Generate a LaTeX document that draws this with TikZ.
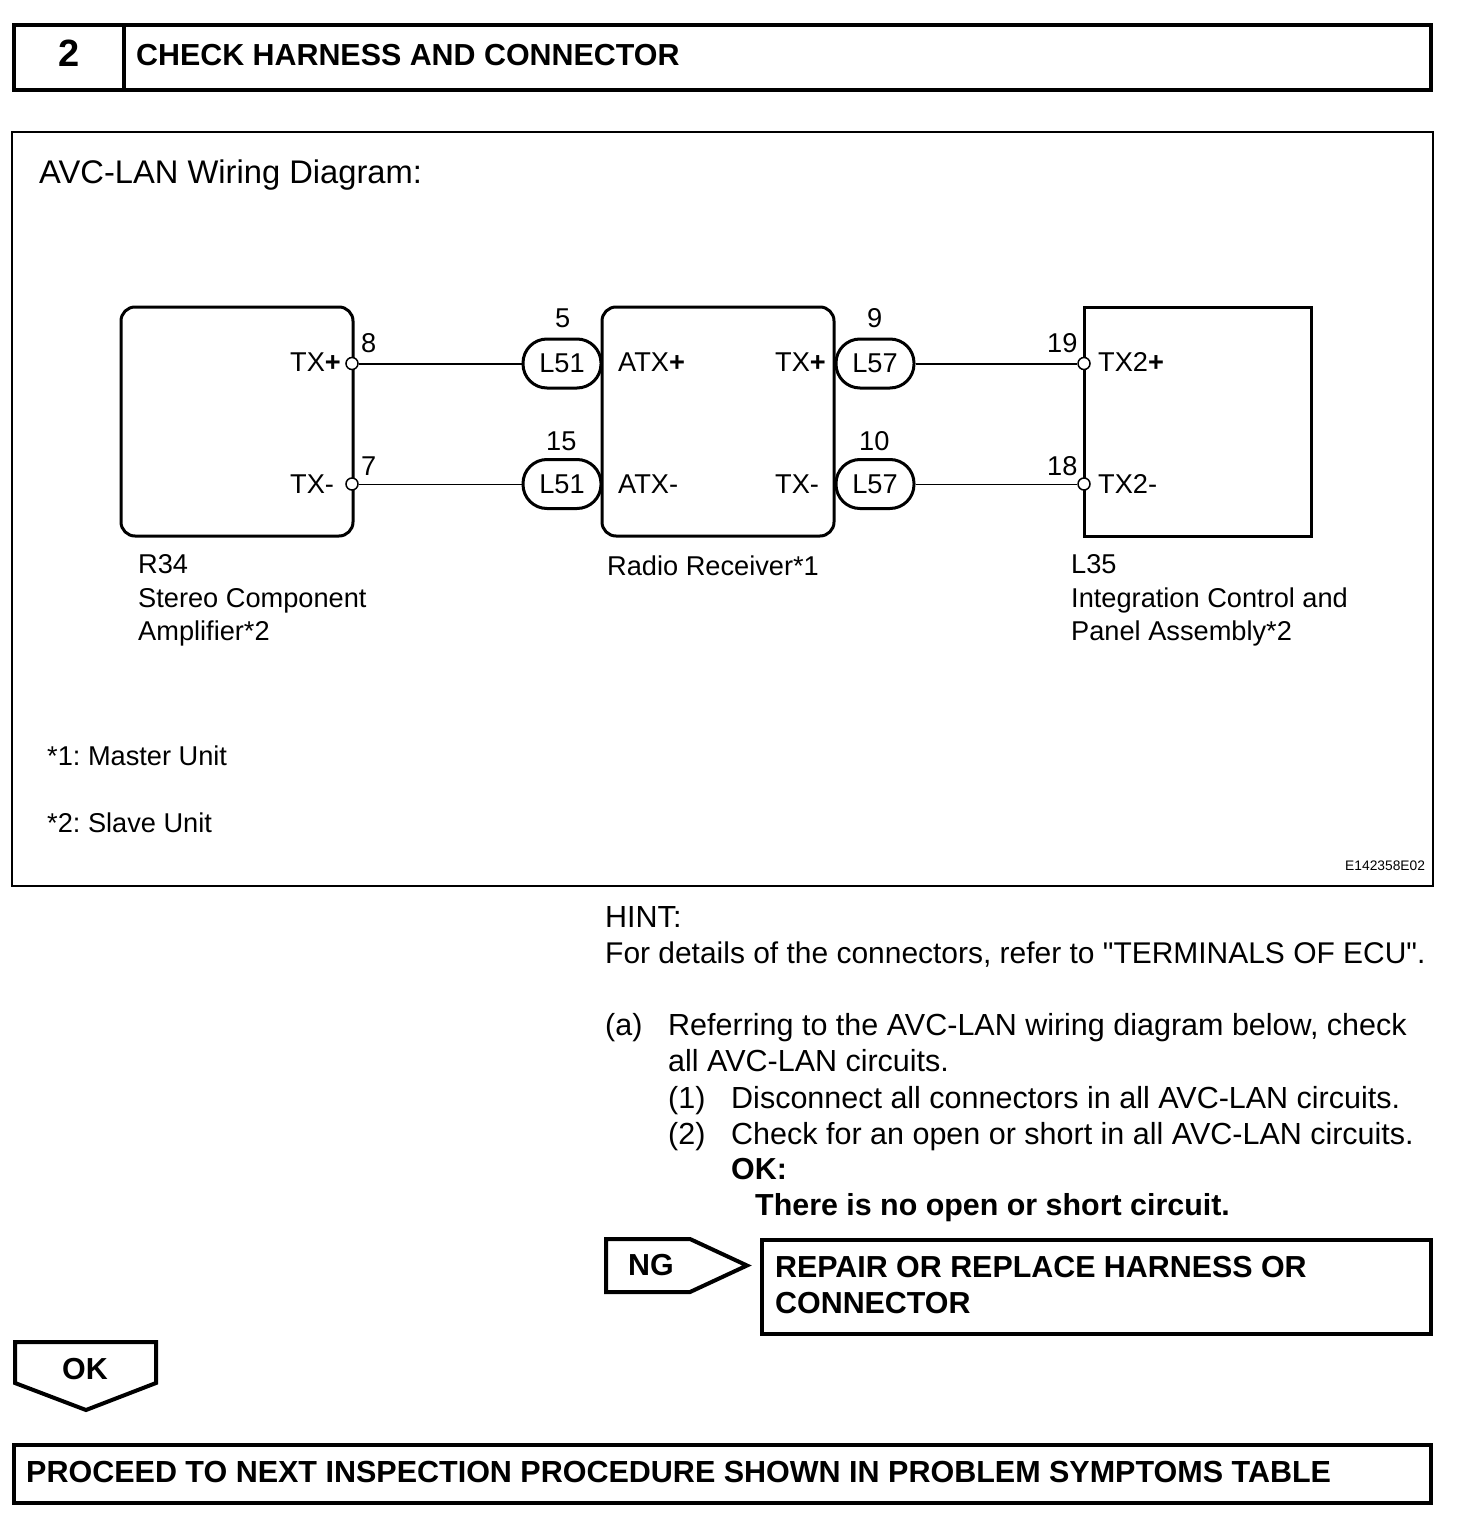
\documentclass[tikz,border=0pt]{standalone}
\usepackage{fontspec}
\setmainfont{Liberation Sans}
\newfontfamily\plainsans{Liberation Sans}
\tikzset{
  lab/.style={anchor=base west, inner sep=0pt, font=\fontsize{27.2}{32}\selectfont},
  body/.style={anchor=base west, inner sep=0pt, font=\plainsans\fontsize{30.5}{36}\selectfont},
  heavy/.style={anchor=base west, inner sep=0pt, font=\fontsize{30.4}{36}\selectfont\bfseries},
  unitbox/.style={draw, line width=3pt, minimum width=232pt, minimum height=229pt, inner sep=0pt},
  pill/.style={draw, line width=3pt, rounded corners=24pt, minimum width=78pt, minimum height=49pt, inner sep=0pt, font=\fontsize{27.2}{32}\selectfont},
  pin/.style={draw, circle, fill=white, line width=1.5pt, minimum size=12pt, inner sep=0pt},
  frame/.style={line width=4pt}
}
\begin{document}
\frenchspacing
\begin{tikzpicture}[x=1pt,y=-1pt]
\useasboundingbox (0,0) rectangle (1456,1522);
%header
\draw[frame] (14,25) rectangle (1431,90);
\draw[frame] (124,25) -- (124,90);
\node[heavy, anchor=base, font=\fontsize{38}{44}\selectfont\bfseries] (stepno) at (69,67) {2};
\node[heavy] (title) at (136,65.5) {CHECK HARNESS AND CONNECTOR};
%diagram
\draw[line width=2pt] (12,132) rectangle (1433,886);
\node[body, font=\fontsize{32.7}{38}\selectfont] (diagtitle) at (39,184) {AVC-LAN Wiring Diagram:};
\node[unitbox, rounded corners=14pt] (amp) at (237,421.5) {};
\node[unitbox, rounded corners=14pt] (radio) at (718,421.5) {};
\node[unitbox, minimum width=227pt] (panel) at (1197.5,421.5) {};
\node[pin] (amp8) at (352,363.5) {};
\node[pin] (amp7) at (352,484) {};
\node[pin] (pan19) at (1084,363.5) {};
\node[pin] (pan18) at (1084,484) {};
\node[pill] (lfa) at (562,363.5) {L51};
\node[pill] (lfb) at (562,484) {L51};
\node[pill] (lsa) at (875,363.5) {L57};
\node[pill] (lsb) at (875,484) {L57};
\draw[line width=2pt] (amp8) -- (lfa);
\draw[line width=1pt] (amp7) -- (lfb);
\draw[line width=2pt] (lsa) -- (pan19);
\draw[line width=1pt] (lsb) -- (pan18);
%terminal numbers
\node[lab] (n8) at (361,352) {8};
\node[lab] (n7) at (361,475) {7};
\node[lab] (n5) at (555,327) {5};
\node[lab] (n15) at (546,450.5) {15};
\node[lab] (n9) at (867,327) {9};
\node[lab] (n10) at (859,450.5) {10};
\node[lab] (n19) at (1047,352) {19};
\node[lab] (n18) at (1047,475) {18};
%terminal names
\node[lab] (txa) at (290,371) {TX\textbf{+}};
\node[lab] (txb) at (290,493) {TX-};
\node[lab] (atxa) at (618,371) {ATX\textbf{+}};
\node[lab] (atxb) at (618,493) {ATX-};
\node[lab] (rxa) at (775,371) {TX\textbf{+}};
\node[lab] (rxb) at (775,493) {TX-};
\node[lab] (txta) at (1098,371) {TX2\textbf{+}};
\node[lab] (txtb) at (1098,493) {TX2-};
%unit names
\node[lab] (ampa) at (138,573) {R34};
\node[lab] (ampb) at (138,607) {Stereo Component};
\node[lab] (ampc) at (138,640) {Amplifier*2};
\node[lab] (radioa) at (607,575) {Radio Receiver*1};
\node[lab] (pana) at (1071,573) {L35};
\node[lab] (panb) at (1071,607) {Integration Control and};
\node[lab] (panc) at (1071,640) {Panel Assembly*2};
\node[lab] (noa) at (47,765) {*1: Master Unit};
\node[lab] (nob) at (47,832) {*2: Slave Unit};
\node[lab, font=\fontsize{13.8}{16}\selectfont] (figno) at (1345,870) {E142358E02};
%text
\node[body] (hinta) at (605,927) {HINT:};
\node[body, font=\plainsans\fontsize{29.95}{36}\selectfont] (hintb) at (605,963) {For details of the connectors, refer to "TERMINALS OF ECU".};
\node[body] (itema) at (605,1035.5) {(a)};
\node[body] (itemaa) at (668,1035.5) {Referring to the AVC-LAN wiring diagram below, check};
\node[body] (itemab) at (668,1071.5) {all AVC-LAN circuits.};
\node[body] (itemb) at (668,1108) {(1)};
\node[body] (itemba) at (731,1108) {Disconnect all connectors in all AVC-LAN circuits.};
\node[body] (itemc) at (668,1144) {(2)};
\node[body] (itemca) at (731,1144) {Check for an open or short in all AVC-LAN circuits.};
\node[heavy] (oka) at (731,1179.5) {OK:};
\node[heavy] (okb) at (755,1215.5) {There is no open or short circuit.};
%results
\draw[frame] (606,1239) -- (690,1239) -- (747,1265.5) -- (690,1292) -- (606,1292) -- cycle;
\node[heavy] (ngtag) at (628,1275) {NG};
\draw[frame] (762,1240) rectangle (1431,1334);
\node[heavy] (repa) at (775,1277) {REPAIR OR REPLACE HARNESS OR};
\node[heavy] (repb) at (775,1313) {CONNECTOR};
\draw[frame] (15,1342) -- (156,1342) -- (156,1383) -- (86,1410) -- (15,1383) -- cycle;
\node[heavy] (oktag) at (62,1379) {OK};
\draw[frame] (14,1445) rectangle (1431,1503);
\node[heavy, font=\fontsize{30.5}{36}\selectfont\bfseries] (next) at (26,1482) {PROCEED TO NEXT INSPECTION PROCEDURE SHOWN IN PROBLEM SYMPTOMS TABLE};
\end{tikzpicture}
\end{document}
